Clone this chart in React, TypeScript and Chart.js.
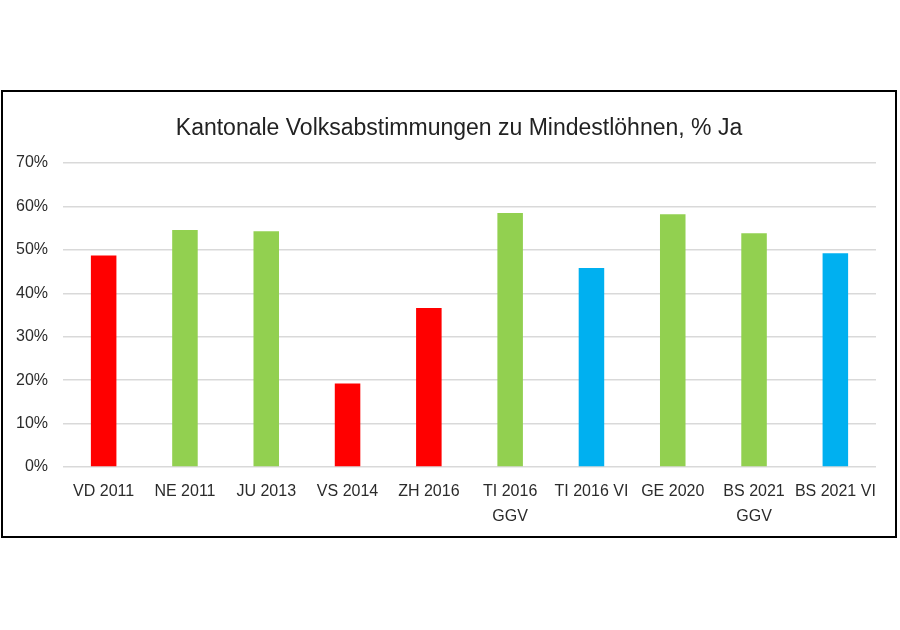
import React, { useEffect, useRef } from "react";
import { Chart, registerables } from "chart.js";

Chart.register(...registerables);

const TITLE = "Kantonale Volksabstimmungen zu Mindestlöhnen, % Ja";
const categories: (string | string[])[] = [
  "VD 2011",
  "NE 2011",
  "JU 2013",
  "VS 2014",
  "ZH 2016",
  ["TI 2016", "GGV"],
  "TI 2016 VI",
  "GE 2020",
  ["BS 2021", "GGV"],
  "BS 2021 VI",
];
const yesShare = [48.7, 54.6, 54.3, 19.2, 36.6, 58.5, 45.8, 58.2, 53.8, 49.2];
const barColors = [
  "#FF0000",
  "#92D050",
  "#92D050",
  "#FF0000",
  "#FF0000",
  "#92D050",
  "#00B0F0",
  "#92D050",
  "#92D050",
  "#00B0F0",
];
const yMin = 0;
const yMax = 70;
const yStep = 10;

const titlePlugin = {
  id: "customTitle",
  afterDraw(chart: any) {
    const ctx = chart.ctx;
    ctx.save();
    ctx.font = "normal 23px 'Liberation Sans'";
    ctx.fillStyle = "#222222";
    ctx.textAlign = "center";
    ctx.textBaseline = "middle";
    ctx.fillText(TITLE, 456, 37);
    ctx.restore();
  },
};

export default function App() {
  const ref = useRef<HTMLCanvasElement | null>(null);
  useEffect(() => {
    if (!ref.current) return;
    const chart = new Chart(ref.current, {
      type: "bar",
      data: {
        labels: categories,
        datasets: [
          {
            data: yesShare,
            backgroundColor: barColors,
            borderWidth: 0,
            barPercentage: 0.314,
            categoryPercentage: 1,
          },
        ],
      },
      plugins: [titlePlugin],
      options: {
        animation: false,
        responsive: false,
        layout: { padding: { left: 0, right: 19, top: 71, bottom: 0 } },
        plugins: {
          legend: { display: false },
          tooltip: { enabled: false },
          title: { display: false },
        },
        scales: {
          x: {
            grid: { display: false, drawTicks: false },
            border: { display: false },
            ticks: {
              color: "#2b2b2b",
              font: { family: "Liberation Sans", size: 16, lineHeight: 1.5625 },
              padding: 12,
              maxRotation: 0,
              autoSkip: false,
            },
            afterFit: (s: any) => {
              s.height = 69;
            },
          },
          y: {
            min: yMin,
            max: yMax,
            grid: { color: "#D9D9D9", lineWidth: 1.5, drawTicks: false },
            border: { display: false },
            ticks: {
              stepSize: yStep,
              color: "#2b2b2b",
              font: { family: "Liberation Sans", size: 16 },
              padding: 15,
              callback: (v: any) => v + "%",
            },
            afterFit: (s: any) => {
              s.width = 60;
            },
          },
        },
      },
    });
    return () => chart.destroy();
  }, []);
  return (
    <div
      style={{
        position: "absolute",
        left: 1,
        top: 90,
        width: 896,
        height: 448,
        boxSizing: "border-box",
        border: "2px solid #000",
        background: "#fff",
      }}
    >
      <canvas ref={ref} width={892} height={444} style={{ display: "block", width: 892, height: 444 }} />
    </div>
  );
}
